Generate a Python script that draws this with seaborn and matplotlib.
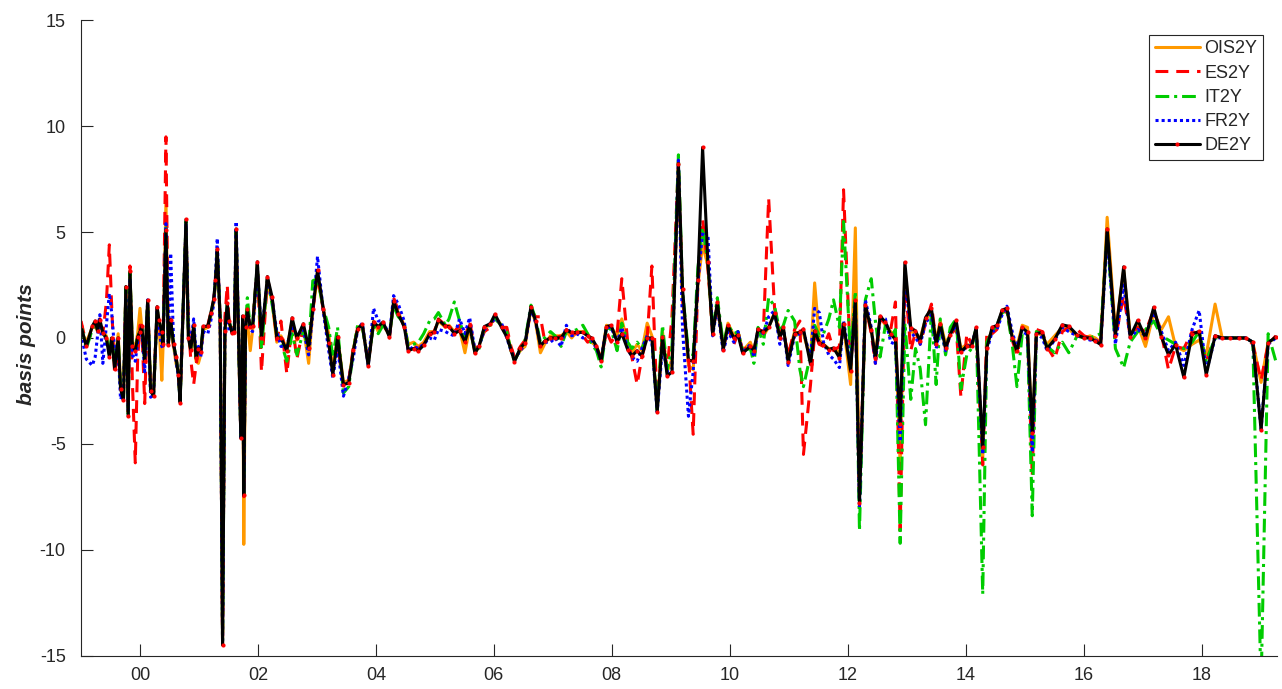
import seaborn as sns
import matplotlib.pyplot as plt

sns.set_theme(style="ticks")
plt.rcParams['font.family'] = ['Liberation Sans', 'DejaVu Sans']
plt.rcParams['axes.unicode_minus'] = False

# =====================
# DATA  (policy meeting dates as decimal years, changes in basis points)
# =====================
dates = [
    1999.00, 1999.09, 1999.19, 1999.24, 1999.28, 1999.32, 1999.37, 1999.43, 1999.48, 1999.52,
    1999.57, 1999.63, 1999.67, 1999.72, 1999.76, 1999.80, 1999.83, 1999.87, 1999.92, 1999.96,
    2000.00, 2000.03, 2000.08, 2000.13, 2000.18, 2000.23, 2000.29, 2000.32, 2000.37, 2000.39,
    2000.44, 2000.48, 2000.52, 2000.57, 2000.61, 2000.65, 2000.68, 2000.78, 2000.82, 2000.86,
    2000.91, 2000.95, 2000.99, 2001.03, 2001.07, 2001.15, 2001.20, 2001.25, 2001.28, 2001.31,
    2001.36, 2001.40, 2001.44, 2001.48, 2001.51, 2001.56, 2001.60, 2001.63, 2001.71, 2001.74,
    2001.76, 2001.79, 2001.82, 2001.87, 2001.91, 2001.99, 2002.06, 2002.16, 2002.24, 2002.32,
    2002.39, 2002.49, 2002.58, 2002.66, 2002.77, 2002.86, 2002.93, 2003.01, 2003.11, 2003.20,
    2003.27, 2003.35, 2003.45, 2003.54, 2003.62, 2003.69, 2003.77, 2003.87, 2003.96, 2004.04,
    2004.12, 2004.23, 2004.30, 2004.38, 2004.48, 2004.55, 2004.64, 2004.72, 2004.81, 2004.91,
    2004.99, 2005.06, 2005.18, 2005.24, 2005.33, 2005.42, 2005.51, 2005.59, 2005.68, 2005.75,
    2005.84, 2005.94, 2006.02, 2006.13, 2006.22, 2006.29, 2006.35, 2006.45, 2006.53, 2006.63,
    2006.71, 2006.79, 2006.86, 2006.96, 2007.04, 2007.14, 2007.23, 2007.32, 2007.41, 2007.51,
    2007.59, 2007.66, 2007.74, 2007.82, 2007.91, 2007.99, 2008.09, 2008.17, 2008.27, 2008.34,
    2008.43, 2008.51, 2008.60, 2008.68, 2008.77, 2008.86, 2008.94, 2009.02, 2009.13, 2009.20,
    2009.30, 2009.38, 2009.46, 2009.54, 2009.63, 2009.71, 2009.79, 2009.89, 2009.97, 2010.07,
    2010.14, 2010.22, 2010.35, 2010.41, 2010.48, 2010.57, 2010.66, 2010.76, 2010.85, 2010.91,
    2010.99, 2011.10, 2011.19, 2011.25, 2011.37, 2011.44, 2011.52, 2011.59, 2011.68, 2011.76,
    2011.86, 2011.93, 2012.05, 2012.13, 2012.20, 2012.30, 2012.40, 2012.47, 2012.55, 2012.64,
    2012.73, 2012.81, 2012.89, 2012.97, 2013.07, 2013.15, 2013.23, 2013.32, 2013.42, 2013.50,
    2013.57, 2013.66, 2013.74, 2013.84, 2013.92, 2014.02, 2014.10, 2014.18, 2014.29, 2014.36,
    2014.45, 2014.53, 2014.62, 2014.70, 2014.79, 2014.87, 2014.96, 2015.05, 2015.13, 2015.20,
    2015.30, 2015.38, 2015.51, 2015.64, 2015.75, 2015.89, 2016.01, 2016.11, 2016.20, 2016.29,
    2016.40, 2016.54, 2016.68, 2016.79, 2016.92, 2017.05, 2017.19, 2017.32, 2017.44, 2017.56,
    2017.70, 2017.84, 2017.96, 2018.08, 2018.23, 2018.35, 2018.49, 2018.63, 2018.75, 2018.87,
    2019.01, 2019.13, 2019.26,
]

ois2y = [
    0.4, -0.2, 0.5, 0.6, 0.3, 0.7, 0.3, 0.1, -0.6, -0.3,
    -1.2, 0.2, -2.2, -2.8, 2.2, -3.5, 3.0, -0.2, -0.4, 0.2,
    1.4, 0.5, -1.0, 1.6, -2.3, -2.6, 1.4, 0.8, -2.0, -0.5,
    6.5, -0.2, 0.6, -0.4, -1.2, -1.6, -2.9, 5.3, 0.2, -0.6,
    0.4, -1.1, -1.2, -0.8, 0.4, 0.5, 1.0, 1.7, 2.5, 4.0,
    0.7, -14.4, 0.4, 1.4, 0.7, 0.3, 0.2, 4.9, -4.6, 0.9,
    -9.75, 0.2, 0.8, -0.6, 0.4, 3.3, -0.3, 2.6, 1.7, -0.2,
    0.1, -0.5, 0.8, -0.1, 0.5, -1.2, 1.3, 2.9, 1.3, 0.2,
    -1.5, 0.1, -2.1, -2.0, -0.5, 0.5, 0.6, -1.2, 0.8, 0.3,
    0.7, 0.1, 1.6, 1.2, 0.6, -0.3, -0.2, -0.4, -0.2, 0.3,
    0.3, 0.8, 0.5, 0.6, 0.3, 0.4, -0.7, 0.5, -0.7, -0.4,
    0.5, 0.6, 1.0, 0.6, 0.2, -0.5, -1.0, -0.6, -0.4, 1.4,
    0.7, -0.7, -0.3, 0.1, 0.1, 0.1, 0.3, 0.0, 0.3, 0.3,
    0.2, -0.2, -0.4, -1.0, 0.6, 0.5, 0.1, 0.9, -0.3, -0.7,
    -0.3, -0.6, 0.7, 0.1, -3.4, 0.3, -1.6, -1.0, 8.0, 2.0,
    -1.3, -1.5, 2.5, 4.4, 3.4, 0.3, 1.5, -0.4, 0.7, 0.1,
    0.3, -0.6, -0.2, -0.7, 0.3, 0.1, 0.5, 1.2, 0.3, 0.4,
    -0.9, 0.3, 0.2, 0.2, -1.0, 2.6, -0.1, -0.3, -0.5, -0.5,
    -0.7, 0.6, -2.2, 5.2, -7.5, 1.4, 0.4, -0.8, 1.0, 0.6,
    0.3, 0.1, -6.0, 3.3, 0.3, 0.2, 0.0, 0.9, 1.2, -0.1,
    0.8, -0.3, 0.2, 0.7, -0.5, -0.3, -0.4, 0.4, -5.7, -0.3,
    0.4, 0.5, 1.2, 1.3, 0.1, -0.4, 0.6, 0.5, -4.8, 0.3,
    0.1, -0.3, 0.1, 0.5, 0.4, 0.1, 0.0, 0.1, 0.0, -0.2,
    5.7, 0.3, 3.2, 0.2, 0.6, -0.4, 1.2, 0.4, 1.0, -0.4,
    -0.6, -0.3, -0.1, -0.8, 1.6, 0.0, 0.0, 0.0, 0.0, -0.2,
    -2.1, -0.2, 0.0,
]

es2y = [
    0.8, -0.3, 0.3, 0.6, 0.7, 0.9, 0.2, 1.7, 4.4, 1.5,
    -1.7, -0.6, -2.2, -2.7, 2.3, -3.5, 3.4, -2.0, -5.9, -1.0,
    0.6, 0.6, -3.1, 1.7, -2.4, -2.6, 1.3, 0.6, 0.1, -0.4,
    9.5, -0.2, 0.9, -0.5, -0.8, -1.7, -2.9, 5.2, 0.8, -1.0,
    -2.2, -1.3, -0.6, -0.6, 0.3, 0.6, 1.2, 1.8, 2.7, 4.1,
    0.9, -14.5, 1.0, 2.5, 0.6, 0.5, 0.2, 5.0, -4.7, 1.0,
    -7.5, 0.6, 1.3, 0.5, 0.6, 3.5, -1.6, 2.8, 1.9, -0.1,
    0.8, -1.7, 0.7, -1.0, 0.5, -0.3, 1.3, 3.0, 1.3, -0.3,
    -1.5, -0.3, -2.3, -2.0, -0.4, 0.4, 0.6, -1.2, 0.7, 0.5,
    0.7, 0.0, 1.9, 1.3, 0.5, -0.6, -0.4, -0.5, -0.3, 0.2,
    0.3, 0.9, 0.6, 0.5, 0.3, 0.6, 0.0, 0.8, -0.6, -0.3,
    0.3, 0.5, 1.0, 0.5, 0.5, -0.4, -0.9, -0.4, -0.1, 1.3,
    1.0, 1.0, -0.1, 0.0, 0.0, 0.1, 0.4, 0.2, 0.2, 0.1,
    -0.2, -0.1, -0.4, -1.0, 0.3, -0.2, 0.2, 2.8, -0.2, -0.9,
    -2.2, -0.9, 0.0, 3.4, -3.3, 0.1, -1.5, 1.0, 8.3, 1.8,
    -0.8, -4.55, 2.6, 5.6, 3.3, 0.2, 1.6, -0.5, 0.5, -0.3,
    0.2, -0.6, -0.3, -0.6, 0.4, 0.3, 6.6, 1.4, 0.2, 0.3,
    -0.8, 0.4, 0.8, -5.5, -2.2, 0.2, -0.3, -0.4, 0.2, -0.6,
    -0.4, 7.0, -1.3, 1.5, -7.7, 1.6, 0.2, -1.2, 0.9, 0.7,
    0.4, 1.7, -9.1, 2.8, -0.6, 0.3, -0.3, 0.7, 1.6, -0.2,
    0.5, -0.5, 0.1, 0.5, -2.8, 0.2, -0.3, 0.3, -6.0, 0.3,
    0.2, 0.4, 1.3, 1.2, -0.1, -0.8, 0.3, 0.2, -6.5, 0.4,
    0.3, -0.4, -1.0, 0.3, 0.5, 0.4, 0.1, 0.0, -0.1, -0.2,
    5.0, 0.0, 2.0, 0.1, 0.5, 0.3, 1.3, 0.2, -1.5, -0.4,
    -0.5, 0.3, 0.2, -1.1, 0.1, 0.0, 0.0, 0.0, 0.0, -0.3,
    -2.0, -0.3, 0.1,
]

it2y = [
    0.6, -0.5, 0.4, 0.7, 0.4, 0.8, 0.2, 0.0, -0.8, 0.1,
    -1.3, 0.0, -2.3, -2.9, 2.4, -3.6, 3.1, -0.4, -0.6, 0.1,
    0.3, 0.5, -1.1, 1.7, -2.5, -2.7, 1.4, 0.8, 0.3, -0.3,
    5.2, -0.3, 0.8, -0.3, -0.9, -1.7, -3.0, 5.5, 0.1, -0.5,
    0.5, -0.9, -0.5, -0.6, 0.5, 0.5, 1.1, 1.8, 2.7, 4.2,
    0.9, -14.5, 0.3, 1.6, 0.8, 0.3, 0.3, 5.1, -4.7, 1.0,
    -7.4, 0.5, 1.9, 0.5, 0.6, 3.5, -0.5, 2.8, 1.6, 0.2,
    -0.2, -1.1, 0.2, -0.8, 0.3, -0.5, 2.7, 2.8, 1.4, 0.5,
    -0.9, 0.5, -2.6, -2.3, -0.6, 0.6, 0.5, -1.1, 0.6, 0.2,
    0.6, 0.2, 1.5, 1.0, 0.7, -0.4, -0.3, -0.2, 0.2, 0.8,
    0.9, 1.2, 0.6, 0.9, 1.7, 0.8, 0.0, 0.5, -0.6, -0.5,
    0.5, 0.6, 0.9, 0.6, 0.3, -0.6, -1.1, -0.5, -0.1, 1.55,
    0.9, -0.2, 0.0, 0.3, 0.1, -0.4, 0.3, 0.3, 0.4, 0.6,
    0.2, -0.3, -0.6, -1.37, 0.5, 0.4, -0.6, 0.7, -0.2, -0.5,
    -0.2, -0.5, 0.1, 0.0, -3.4, 0.6, -1.5, -0.5, 8.65, 2.2,
    -0.7, -0.8, 3.3, 5.2, 3.6, 0.3, 1.9, -0.3, 0.6, 0.2,
    0.3, -0.6, -0.5, -1.2, 0.5, -0.3, 1.9, 1.5, 0.3, 0.6,
    1.3, 0.8, -1.5, -2.3, -0.8, 0.6, 0.1, 0.2, 0.9, 1.8,
    0.5, 5.5, -0.9, 2.2, -9.1, 1.8, 2.8, 0.8, -0.9, 0.6,
    0.0, 0.4, -9.7, 0.7, -2.9, -0.5, -1.45, -4.1, 1.3, -2.2,
    0.9, -0.8, 0.5, 0.9, -2.4, -0.8, -0.5, 0.5, -12.1, -0.2,
    0.3, 0.6, 1.2, 1.3, -0.3, -2.3, 0.2, 0.0, -8.4, 0.3,
    0.2, -0.4, -0.7, -0.2, -0.7, 0.1, 0.0, 0.0, 0.1, 0.2,
    4.9, -0.5, -1.4, -0.2, 0.3, 0.4, 0.8, 0.1, -0.1, -0.3,
    -0.5, -0.2, 0.3, -1.1, 0.0, 0.0, 0.0, 0.0, 0.0, -0.2,
    -16.5, 0.2, -1.1,
]

fr2y = [
    0.2, -1.0, -1.3, -0.9, 0.1, 1.1, -1.2, 0.6, 2.1, 1.2,
    -0.6, -0.5, -2.9, -2.6, 1.9, -3.4, 2.8, -0.8, -1.1, -0.2,
    0.2, 0.4, -1.6, 1.8, -2.8, -2.7, 1.4, 0.4, -0.4, -0.5,
    5.4, -0.3, 4.0, -0.2, -1.1, -1.8, -2.9, 5.4, 0.5, -0.3,
    0.9, -0.7, -0.4, -0.9, 0.3, 0.2, 0.8, 1.6, 2.9, 4.7,
    0.5, -14.4, 0.5, 1.3, 0.3, 0.5, 0.4, 5.5, -4.7, 0.7,
    -7.3, 0.6, 1.2, 0.4, 0.3, 3.3, 0.2, 2.7, 1.8, 0.3,
    -0.4, -0.4, 0.6, 0.1, 0.4, -0.8, 1.2, 3.85, 1.2, -0.6,
    -1.9, -0.4, -2.75, -1.9, -0.9, 0.4, 0.7, -1.3, 1.4, 0.8,
    0.8, 0.1, 2.0, 1.6, 0.8, -0.6, -0.4, -0.5, -0.3, 0.0,
    -0.1, 0.4, 0.3, 0.2, 0.1, 0.9, 0.2, 0.96, -0.6, -0.4,
    0.4, 0.7, 0.9, 0.7, 0.0, -0.6, -1.0, -0.6, -0.3, 1.4,
    0.7, -0.3, -0.2, -0.2, 0.0, -0.4, 0.6, 0.1, 0.2, 0.0,
    0.1, -0.1, -0.5, -1.0, 0.5, 0.5, -0.2, 0.5, -0.5, -0.9,
    -1.1, -0.5, 0.1, -0.2, -3.5, -0.4, -1.6, -1.5, 8.4, 0.4,
    -3.7, -1.6, 2.6, 5.0, 4.9, 0.1, 1.5, -0.7, 0.3, -0.2,
    0.3, -0.7, -0.3, -0.9, 0.4, 0.2, 1.0, 1.3, -0.3, 0.5,
    -1.3, 0.1, 0.2, 0.3, -0.9, 1.4, 1.2, -0.2, -0.8, -1.0,
    -1.4, 0.8, -1.2, 1.6, -8.0, 1.8, 0.5, -1.2, 1.0, 0.9,
    -0.2, -0.3, -4.9, 3.0, 0.3, 0.0, -0.3, 0.7, 1.1, -0.5,
    0.5, -0.6, 0.2, 0.6, -0.7, -0.4, -0.3, 0.4, -5.5, -0.6,
    0.3, 0.4, 1.1, 1.5, 0.3, -0.5, 0.4, 0.1, -5.4, 0.2,
    0.0, -0.6, -0.1, 0.5, 0.3, 0.1, 0.0, -0.1, -0.1, -0.3,
    4.8, -0.3, 2.5, 0.0, 0.4, 0.1, 1.2, 0.3, -0.6, -0.2,
    -1.3, 0.4, 1.3, -1.6, 0.0, 0.0, 0.0, 0.0, 0.0, -0.2,
    -4.3, -0.3, 0.0,
]

de2y = [
    0.55, -0.4, 0.55, 0.8, 0.35, 0.86, 0.25, 0.0, -0.9, 0.0,
    -1.45, 0.0, -2.4, -2.95, 2.43, -3.7, 3.14, -0.36, -0.6, 0.05,
    0.3, 0.55, -1.1, 1.78, -2.5, -2.75, 1.48, 0.86, 0.3, -0.3,
    5.1, -0.35, 0.86, -0.3, -0.9, -1.74, -3.05, 5.6, 0.0, -0.55,
    0.6, -0.95, -0.5, -0.67, 0.55, 0.55, 1.16, 1.84, 2.75, 4.2,
    0.86, -14.5, 0.34, 1.64, 0.8, 0.23, 0.3, 5.15, -4.74, 1.04,
    -7.44, 0.5, 1.35, 0.5, 0.55, 3.6, 0.0, 2.9, 1.94, 0.0,
    0.0, -0.6, 0.95, 0.0, 0.67, -0.47, 1.37, 3.2, 1.35, -0.23,
    -1.74, 0.05, -2.2, -2.13, -0.55, 0.42, 0.64, -1.32, 0.75, 0.54,
    0.75, 0.05, 1.73, 1.12, 0.54, -0.6, -0.5, -0.6, -0.34, 0.18,
    0.26, 0.86, 0.55, 0.54, 0.21, 0.34, -0.18, 0.59, -0.72, -0.39,
    0.54, 0.67, 1.12, 0.5, 0.05, -0.55, -1.12, -0.47, -0.23, 1.48,
    0.8, -0.39, -0.15, 0.0, 0.0, 0.0, 0.37, 0.26, 0.26, 0.26,
    0.1, 0.0, -0.39, -1.1, 0.54, 0.59, -0.18, 0.21, -0.55, -0.85,
    -0.6, -0.85, 0.0, 0.0, -3.5, 0.05, -1.8, -1.6, 8.24, 2.3,
    -1.04, -1.1, 2.75, 9.0, 3.57, 0.18, 1.68, -0.55, 0.59, 0.0,
    0.15, -0.72, -0.39, -0.6, 0.42, 0.26, 0.5, 1.16, 0.0, 0.5,
    -1.12, 0.21, 0.26, 0.42, -1.25, 0.34, -0.23, -0.31, -0.55, -0.47,
    -0.93, 0.67, -1.58, 1.78, -7.8, 1.56, 0.37, -0.96, 1.03, 0.75,
    0.18, -0.07, -4.05, 3.57, 0.47, 0.34, -0.15, 0.96, 1.4, -0.28,
    0.67, -0.47, 0.15, 0.83, -0.64, -0.39, -0.39, 0.5, -5.16, -0.47,
    0.5, 0.59, 1.32, 1.4, 0.0, -0.6, 0.5, 0.26, -4.5, 0.21,
    0.26, -0.5, -0.07, 0.62, 0.55, 0.15, 0.0, 0.0, -0.15, -0.31,
    5.15, 0.1, 3.36, 0.05, 0.83, 0.0, 1.45, 0.05, -0.8, -0.31,
    -1.86, 0.18, 0.31, -1.74, 0.1, 0.0, 0.0, 0.0, 0.0, -0.2,
    -4.35, -0.23, 0.05,
]

year_ticks = list(range(2000, 2019, 2))
year_labels = [f'{y % 100:02d}' for y in year_ticks]

axis_grey = '#262626'

# name, values, colour, line style
series = [
    ('OIS2Y', ois2y, '#FF9900', '-'),
    ('ES2Y', es2y, '#FF0000', (0, (4.2, 2.6))),
    ('IT2Y', it2y, '#00CC00', (0, (4.5, 1.6, 1.0, 1.6))),
    ('FR2Y', fr2y, '#0000FF', (0, (1.0, 1.0))),
    ('DE2Y', de2y, '#000000', '-'),
]

# =====================
# PLOT
# =====================
fig = plt.figure(figsize=(12.82, 6.89), dpi=100)
ax = fig.add_axes([0.0632, 0.0486, 0.9329, 0.9218])

for name, vals, col, ls in series:
    extra = {}
    if name == 'DE2Y':
        extra = dict(marker='o', markersize=3.0, markerfacecolor='#FF0000',
                     markeredgecolor='#FF0000', markeredgewidth=0)
    sns.lineplot(x=dates, y=vals, color=col, linestyle=ls, linewidth=2.2,
                 label=name, ax=ax, **extra)

ax.set_xlim(1999.0, 2019.28)
ax.set_ylim(-15, 15)
ax.set_yticks([-15, -10, -5, 0, 5, 10, 15])
ax.set_xticks(year_ticks)
ax.set_xticklabels(year_labels)
ax.set_xlabel('')
ax.set_ylabel('')

sns.despine(ax=ax)
for side in ['left', 'bottom']:
    ax.spines[side].set_color(axis_grey)
    ax.spines[side].set_linewidth(0.8)
ax.tick_params(axis='both', direction='in', length=8.5, width=0.8,
               colors=axis_grey, labelsize=13)
ax.tick_params(axis='y', pad=11)
ax.tick_params(axis='x', pad=8)

fig.text(0.021, 0.50, 'basis points', rotation=90, ha='center', va='center',
         fontsize=15, fontweight='bold', fontstyle='italic', color=axis_grey)

leg = ax.legend(loc='upper right', bbox_to_anchor=(0.988, 0.977), fontsize=13,
                frameon=True, fancybox=False, framealpha=1, edgecolor=axis_grey,
                handlelength=2.5, handletextpad=0.25, labelspacing=0.4,
                borderpad=0.3, borderaxespad=0)
leg.get_frame().set_linewidth(0.8)

plt.savefig('out.png', dpi=100)
